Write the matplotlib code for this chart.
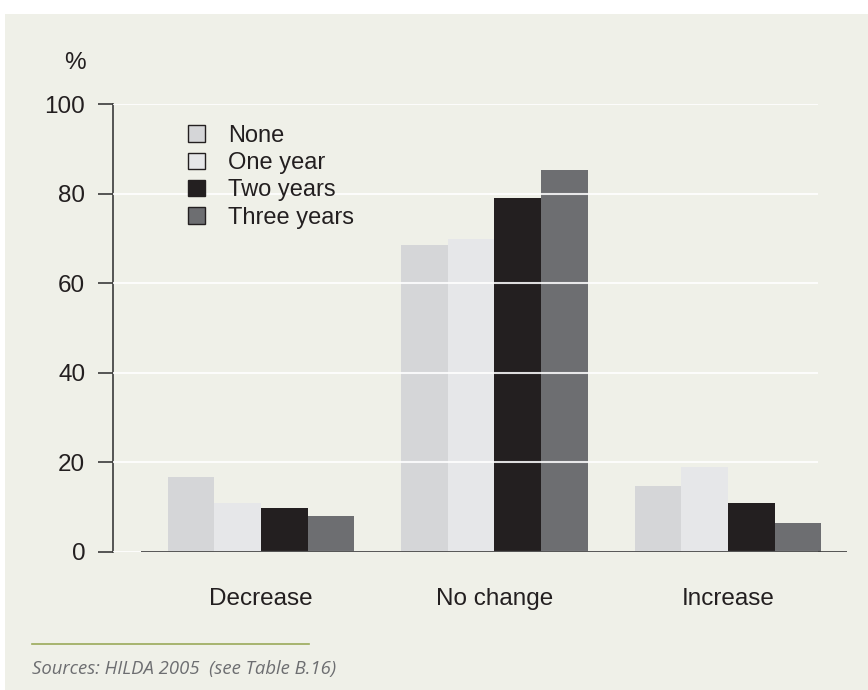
"""Change in category by years of exposure, HILDA 2005 grouped bar chart."""
import matplotlib.pyplot as plt
import numpy as np
from matplotlib.patches import Patch, Rectangle

plt.rcParams["font.family"] = ["Liberation Sans", "DejaVu Sans"]

categories = ["Decrease", "No change", "Increase"]
series = ["None", "One year", "Two years", "Three years"]
none_vals = [16.7, 68.5, 14.8]
one_year_vals = [10.9, 69.9, 19.0]
two_years_vals = [9.8, 79.0, 10.9]
three_years_vals = [8.0, 85.3, 6.5]
colors = ["#d5d6d8", "#e6e7e9", "#231f20", "#6d6e71"]
y_ticks = [0, 20, 40, 60, 80, 100]

BG = "#eff0e8"
W, H = 868, 690

fig = plt.figure(figsize=(W / 100, H / 100), dpi=100, facecolor="white")
fig.patches.append(Rectangle((5 / W, 0), 1 - 5 / W, 1 - 14 / H,
                             transform=fig.transFigure, facecolor=BG,
                             edgecolor="none", zorder=-10))

ax = fig.add_axes([113 / W, 1 - 552 / H, (847 - 113) / W, 448 / H])
ax.set_facecolor("none")

x = np.arange(len(categories))
width = 0.2
all_vals = [none_vals, one_year_vals, two_years_vals, three_years_vals]
for i, (vals, c) in enumerate(zip(all_vals, colors)):
    ax.bar(x + (i - 1.5) * width, vals, width, color=c, zorder=2,
           linewidth=0)

ax.set_xlim(-0.634, 2.51)
ax.set_ylim(0, 100)

# white gridlines drawn over the bars
ax.hlines(y_ticks, -0.634, 2.385, colors="white", linewidth=1.5,
          alpha=0.85, zorder=3)
# baseline
ax.hlines(0, -0.514, 2.51, colors="#3a3a3a", linewidth=1.2, zorder=4)

for s in ["top", "right", "bottom"]:
    ax.spines[s].set_visible(False)
ax.spines["left"].set_color("#3a3a3a")
ax.spines["left"].set_linewidth(1.2)

ax.set_yticks(y_ticks)
ax.tick_params(axis="y", length=11, width=1.2, color="#3a3a3a", pad=9,
               labelsize=17.5, labelcolor="#231f20")
ax.set_xticks(x)
ax.set_xticklabels(categories)
ax.tick_params(axis="x", length=0, pad=26, labelsize=17.5, labelcolor="#231f20")

fig.text(75 / W, 1 - 63 / H, "%", ha="center", va="center", fontsize=17.5,
         color="#231f20")

handles = [Patch(facecolor=c, edgecolor="#231f20", linewidth=1.0) for c in colors]
ax.legend(handles, series, loc="upper left",
          bbox_to_anchor=(188 / W, 1 - 125 / H), bbox_transform=fig.transFigure,
          frameon=False, fontsize=17, handlelength=0.7, handleheight=0.7,
          handletextpad=1.0, labelspacing=0.22, borderpad=0, borderaxespad=0,
          labelcolor="#231f20")

# source note
fig.add_artist(plt.Line2D([32 / W, 309 / W], [1 - 644 / H, 1 - 644 / H],
                          transform=fig.transFigure, color="#9aaa5a",
                          linewidth=1.2))
fig.text(32 / W, 1 - 674 / H, "Sources: HILDA 2005  (see Table B.16)",
         fontsize=13.3, style="italic", color="#6d6e71", va="baseline",
         family=["Open Sans", "DejaVu Sans"])

fig.savefig("out.png", dpi=100, facecolor="white")
